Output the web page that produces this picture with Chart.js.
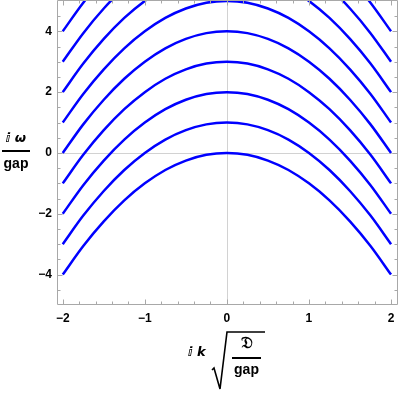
<!DOCTYPE html>
<html>
<head>
<meta charset="utf-8">
<script src="https://cdn.jsdelivr.net/npm/chart.js@4/dist/chart.umd.min.js"></script>
<style>
  html, body { margin: 0; padding: 0; background: #fff; }
  #wrap { position: relative; width: 399px; height: 393px; }
  #plot { position: absolute; left: 0; top: 0; }
  .lbl { position: absolute; font-family: "Liberation Sans", Arial, sans-serif; font-weight: bold; color: #000; }
  .frac { display: flex; flex-direction: column; align-items: center; }
  .bar { height: 1.5px; background: #000; align-self: stretch; }
  .it { font-family: "DejaVu Sans", sans-serif; font-style: italic; }
</style>
</head>
<body>
<div id="wrap">
  <canvas id="plot" width="399" height="393"></canvas>

  <!-- y axis title: i w / gap -->
  <div class="lbl frac" style="left:2px; top:130px; width:28px;">
    <div class="it" style="font-size:13px; line-height:16px;">ⅈ ω</div>
    <div class="bar" style="margin:4px 0 3px 0;"></div>
    <div style="font-size:14px; line-height:16px;">gap</div>
  </div>

  <!-- x axis title: i k sqrt(D/gap) -->
  <div class="lbl it" style="left:188px; top:344px; font-size:13px; line-height:16px;">ⅈ k</div>
  <svg style="position:absolute; left:208px; top:328px;" width="60" height="64">
    <polyline points="4,42 6,40 12,61 19,4 57,4" fill="none" stroke="#000" stroke-width="1.6"/>
  </svg>
  <div class="lbl frac" style="left:232px; top:333px; width:29px;">
    <div style="font-family:'DejaVu Serif', serif; font-size:16px; line-height:19px;">𝔇</div>
    <div class="bar" style="margin:5px 0 2px 0;"></div>
    <div style="font-size:14px; line-height:17px;">gap</div>
  </div>
</div>

<script>
// sample positions along k, same for every curve
const kValues = [-2, -1.75, -1.5, -1.25, -1, -0.75, -0.5, -0.25, 0, 0.25, 0.5, 0.75, 1, 1.25, 1.5, 1.75, 2];

// curves, lowest to highest
const curve0 = [-4, -3.06, -2.25, -1.56, -1, -0.56, -0.25, -0.06, 0, -0.06, -0.25, -0.56, -1, -1.56, -2.25, -3.06, -4];
const curve1 = [-3, -2.06, -1.25, -0.56, 0, 0.44, 0.75, 0.94, 1, 0.94, 0.75, 0.44, 0, -0.56, -1.25, -2.06, -3];
const curve2 = [-2, -1.06, -0.25, 0.44, 1, 1.44, 1.75, 1.94, 2, 1.94, 1.75, 1.44, 1, 0.44, -0.25, -1.06, -2];
const curve3 = [-1, -0.06, 0.75, 1.44, 2, 2.44, 2.75, 2.94, 3, 2.94, 2.75, 2.44, 2, 1.44, 0.75, -0.06, -1];
const curve4 = [0, 0.94, 1.75, 2.44, 3, 3.44, 3.75, 3.94, 4, 3.94, 3.75, 3.44, 3, 2.44, 1.75, 0.94, 0];
const curve5 = [1, 1.94, 2.75, 3.44, 4, 4.44, 4.75, 4.94, 5, 4.94, 4.75, 4.44, 4, 3.44, 2.75, 1.94, 1];
const curve6 = [2, 2.94, 3.75, 4.44, 5, 5.44, 5.75, 5.94, 6, 5.94, 5.75, 5.44, 5, 4.44, 3.75, 2.94, 2];
const curve7 = [3, 3.94, 4.75, 5.44, 6, 6.44, 6.75, 6.94, 7, 6.94, 6.75, 6.44, 6, 5.44, 4.75, 3.94, 3];
const curve8 = [4, 4.94, 5.75, 6.44, 7, 7.44, 7.75, 7.94, 8, 7.94, 7.75, 7.44, 7, 6.44, 5.75, 4.94, 4];
const curves = [curve0, curve1, curve2, curve3, curve4, curve5, curve6, curve7, curve8];

// frame ticks
const xMajorTicks = [-2, -1, 0, 1, 2];
const xMinorTicks = [-1.8, -1.6, -1.4, -1.2, -0.8, -0.6, -0.4, -0.2, 0.2, 0.4, 0.6, 0.8, 1.2, 1.4, 1.6, 1.8];
const yMajorTicks = [-4, -2, 0, 2, 4];
const yMinorTicks = [-4.5, -3.5, -3, -2.5, -1.5, -1, -0.5, 0.5, 1, 1.5, 2.5, 3, 3.5, 4.5];

const fmt = v => (v < 0 ? '\u2212' + Math.abs(v) : String(v));

// axes through the origin, frame and inward ticks (Mathematica style)
const framePlugin = {
    id: 'frame',
    beforeDatasetsDraw(chart) {
        const { ctx, chartArea: a, scales: { x, y } } = chart;
        ctx.save();
        ctx.strokeStyle = '#d2d2d2';
        ctx.lineWidth = 1;
        const x0 = Math.round(x.getPixelForValue(0)) + 0.5;
        const y0 = Math.round(y.getPixelForValue(0)) + 0.5;
        ctx.beginPath();
        ctx.moveTo(x0, a.top); ctx.lineTo(x0, a.bottom);
        ctx.moveTo(a.left, y0); ctx.lineTo(a.right, y0);
        ctx.stroke();
        ctx.restore();
    },
    afterDatasetsDraw(chart) {
        const { ctx, chartArea: a, scales: { x, y } } = chart;
        ctx.save();
        ctx.strokeStyle = '#a8a8a8';
        ctx.lineWidth = 1;
        const l = Math.round(a.left) + 0.5, r = Math.round(a.right) - 0.5;
        const t = Math.round(a.top) + 0.5, b = Math.round(a.bottom) - 0.5;
        ctx.beginPath();
        ctx.moveTo(l, t); ctx.lineTo(l, b); ctx.lineTo(r, b); ctx.lineTo(r, t); ctx.lineTo(l, t);
        const xt = (v, len) => {
            const px = Math.round(x.getPixelForValue(v)) + 0.5;
            ctx.moveTo(px, b); ctx.lineTo(px, b - len);
            ctx.moveTo(px, t); ctx.lineTo(px, t + len);
        };
        const yt = (v, len) => {
            const py = Math.round(y.getPixelForValue(v)) + 0.5;
            ctx.moveTo(l, py); ctx.lineTo(l + len, py);
            ctx.moveTo(r, py); ctx.lineTo(r - len, py);
        };
        xMajorTicks.forEach(v => xt(v, 5));
        xMinorTicks.forEach(v => xt(v, 3));
        yMajorTicks.forEach(v => yt(v, 5));
        yMinorTicks.forEach(v => yt(v, 3));
        ctx.stroke();
        ctx.restore();
    }
};

const tickFont = { family: '"Liberation Sans", Arial, sans-serif', size: 12, weight: 'bold' };

new Chart(document.getElementById('plot'), {
    type: 'line',
    data: {
        labels: kValues,
        datasets: curves.map(c => ({
            data: c.map((v, i) => ({ x: kValues[i], y: v })),
            borderColor: '#0000ff',
            borderWidth: 2.5,
            pointRadius: 0,
            fill: false,
            cubicInterpolationMode: 'monotone',
            capBezierPoints: false
        }))
    },
    options: {
        responsive: false,
        animation: false,
        events: [],
        layout: { padding: { top: 0, right: 1, bottom: 0, left: 0 } },
        plugins: { legend: { display: false }, tooltip: { enabled: false } },
        scales: {
            x: {
                type: 'linear',
                min: -2.07,
                max: 2.085,
                bounds: 'data',
                grid: { display: false, drawTicks: false },
                border: { display: false },
                ticks: { font: tickFont, color: '#000', padding: 6, autoSkip: false, maxRotation: 0, callback: fmt },
                afterBuildTicks: s => { s.ticks = xMajorTicks.map(v => ({ value: v })); },
                afterFit: s => { s.height = 88; s.paddingLeft = 0; s.paddingRight = 0; }
            },
            y: {
                type: 'linear',
                min: -5.0,
                max: 5.03,
                bounds: 'data',
                grid: { display: false, drawTicks: false },
                border: { display: false },
                ticks: { font: tickFont, color: '#000', padding: 5, autoSkip: false, callback: fmt },
                afterBuildTicks: s => { s.ticks = yMajorTicks.map(v => ({ value: v })); },
                afterFit: s => { s.width = 57; s.paddingTop = 0; s.paddingBottom = 0; }
            }
        }
    },
    plugins: [framePlugin]
});
</script>
</body>
</html>
